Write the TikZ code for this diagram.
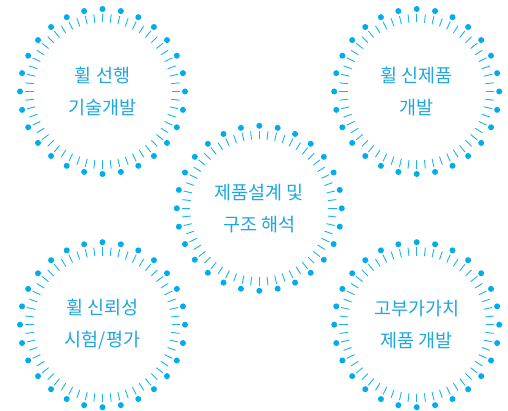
\documentclass[tikz,border=0pt]{standalone}
\usepackage{fontspec}
\newfontfamily\krfont{Noto Sans CJK KR}
\definecolor{wheelblue}{RGB}{0,172,236}
\definecolor{textblue}{RGB}{30,166,224}
\begin{document}
\begin{tikzpicture}[x=1pt, y=-1pt,
    wdot/.style={fill=wheelblue},
    wtick/.style={draw=wheelblue!90, line width=0.9pt},
    wlabel/.style={text=textblue, align=center, font=\krfont\fontsize{18.5}{32}\selectfont}]
	\useasboundingbox (0,0) rectangle (508,411);

	% five wheels: dots outside, short ticks inside
	\foreach \cx/\cy in {102.5/91.5, 416.7/91.5, 259.3/208.3, 102.5/324.7, 416.7/324.7} {
		\foreach \k in {0,...,27}
			\fill[wdot, shift={(\cx,\cy)}] (\k*90/7:82.5) circle [radius=3];
		\foreach \k in {0,...,55}
			\draw[wtick, shift={(\cx,\cy)}] (\k*45/7:69) -- (\k*45/7:77.5);
	}

	\node[wlabel] (lead) at (102.5,91.5) {휠 선행\\기술개발};
	\node[wlabel] (newprod) at (416.7,91.5) {휠 신제품\\개발};
	\node[wlabel] (design) at (259.3,208.3) {제품설계 및\\구조 해석};
	\node[wlabel] (reliab) at (102.5,324.7) {휠 신뢰성\\시험/평가};
	\node[wlabel] (highval) at (416.7,324.7) {고부가가치\\제품 개발};
\end{tikzpicture}
\end{document}
